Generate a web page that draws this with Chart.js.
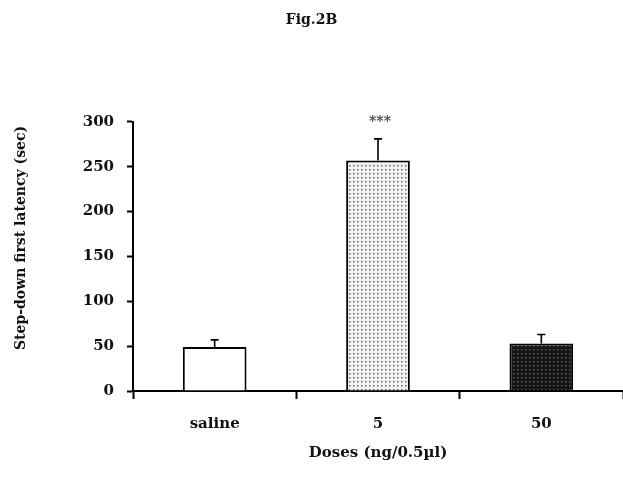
<!DOCTYPE html>
<html>
<head>
<meta charset="utf-8">
<script src="https://cdn.jsdelivr.net/npm/chart.js@4/dist/chart.umd.min.js"></script>
<style>
  html, body { margin: 0; padding: 0; background: #fff; overflow: hidden; }
  #wrap { width: 623px; height: 479px; }
</style>
</head>
<body>
<div id="wrap"><canvas id="myChart"></canvas></div>
<script>
// data
var doses = ["saline", "5", "50"];
var latency = [49, 257, 53];
var sem = [8, 24, 10];
var stars = ["", "***", ""];
var yTicks = [0, 50, 100, 150, 200, 250, 300];

var serif = "'DejaVu Serif', 'Liberation Serif', serif";

function makePattern(bg, dot, w, h, size) {
    var c = document.createElement('canvas');
    c.width = w;
    c.height = h;
    var ctx = c.getContext('2d');
    ctx.fillStyle = bg;
    ctx.fillRect(0, 0, w, h);
    ctx.fillStyle = dot;
    ctx.fillRect(1, 1, size, size);
    return ctx.createPattern(c, 'repeat');
}

var barFills = [
    "#ffffff",
    makePattern("#f2f2f2", "#666666", 4, 4, 1.5),
    makePattern("#141414", "#5a5a5a", 4, 4, 1.5)
];

// error bars (upper only) + significance stars
var errorBars = {
    id: 'errorBars',
    afterDatasetsDraw: function (chart) {
        var ctx = chart.ctx;
        var y = chart.scales.y;
        var meta = chart.getDatasetMeta(0);
        ctx.save();
        ctx.strokeStyle = "#000";
        ctx.lineWidth = 1.6;
        meta.data.forEach(function (bar, i) {
            var top = y.getPixelForValue(latency[i] + sem[i]);
            var base = y.getPixelForValue(latency[i]);
            ctx.beginPath();
            ctx.moveTo(bar.x, base);
            ctx.lineTo(bar.x, top);
            ctx.moveTo(bar.x - 4, top);
            ctx.lineTo(bar.x + 4, top);
            ctx.stroke();
            if (stars[i]) {
                ctx.fillStyle = "#444";
                ctx.font = "bold 14px " + serif;
                ctx.textAlign = "center";
                ctx.textBaseline = "middle";
                ctx.fillText(stars[i], bar.x + 2, top - 16);
            }
        });
        ctx.restore();
    }
};

// y-axis title drawn by hand so it can sit a little above centre like the original
var yTitle = {
    id: 'yTitle',
    afterDraw: function (chart) {
        var ctx = chart.ctx;
        ctx.save();
        ctx.translate(21, 238);
        ctx.rotate(-Math.PI / 2);
        ctx.fillStyle = "#111";
        ctx.font = "bold 14px " + serif;
        ctx.textAlign = "center";
        ctx.textBaseline = "middle";
        ctx.fillText("Step-down first latency (sec)", 0, 0);
        ctx.restore();
    }
};

new Chart("myChart", {
    type: "bar",
    data: {
        labels: doses,
        datasets: [{
            data: latency,
            backgroundColor: barFills,
            borderColor: "#000",
            borderWidth: 2,
            barPercentage: 0.39,
            categoryPercentage: 1
        }]
    },
    plugins: [errorBars, yTitle],
    options: {
        responsive: true,
        maintainAspectRatio: false,
        animation: false,
        events: [],
        layout: { padding: { left: 0, right: 0, top: 0, bottom: 17 } },
        plugins: {
            legend: { display: false },
            tooltip: { enabled: false },
            title: {
                display: true,
                text: "Fig.2B",
                color: "#111",
                font: { family: serif, size: 14, weight: "bold" },
                padding: { top: 12, bottom: 93 }
            }
        },
        scales: {
            x: {
                grid: {
                    drawOnChartArea: false,
                    drawTicks: true,
                    tickLength: 8,
                    tickWidth: 2,
                    tickColor: "#000"
                },
                border: { display: true, color: "#000", width: 2 },
                ticks: {
                    color: "#111",
                    padding: 16,
                    font: { family: serif, size: 15, weight: "bold" }
                },
                title: {
                    display: true,
                    text: "Doses (ng/0.5µl)",
                    color: "#111",
                    font: { family: serif, size: 15, weight: "bold" },
                    padding: { top: -5, bottom: 0 }
                }
            },
            y: {
                min: 0,
                max: 300,
                afterBuildTicks: function (scale) {
                    scale.ticks = yTicks.map(function (v) { return { value: v }; });
                },
                afterFit: function (scale) {
                    scale.width = 133;
                },
                grid: {
                    drawOnChartArea: false,
                    drawTicks: true,
                    tickLength: 6,
                    tickWidth: 2,
                    tickColor: "#000"
                },
                border: { display: true, color: "#000", width: 2 },
                ticks: {
                    color: "#111",
                    padding: 13,
                    font: { family: serif, size: 15, weight: "bold" }
                }
            }
        }
    }
});
</script>
</body>
</html>
